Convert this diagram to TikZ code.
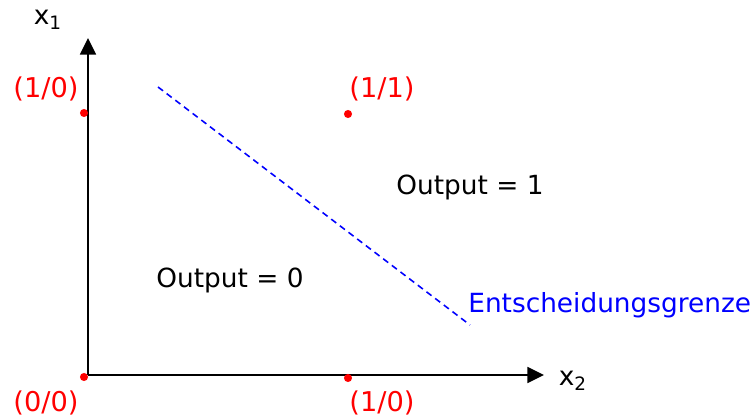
\documentclass[tikz,border=0pt]{standalone}
\usepackage{fontspec}
\setmainfont{DejaVu Sans}
\usetikzlibrary{positioning,arrows.meta}
\definecolor{cpt}{HTML}{FF0000}
\definecolor{cbnd}{HTML}{0000FF}
\tikzset{
  axis/.style={line width=1.3pt, -{Triangle[length=9.5pt,width=9pt]}},
  pt/.style={circle, fill=cpt, inner sep=0pt, minimum size=4.6pt},
  ptlabel/.style={text=cpt, font=\fontsize{15.5}{18}\selectfont, inner sep=0pt},
  txt/.style={font=\fontsize{15}{18}\selectfont, inner sep=0pt},
  bound/.style={draw=cbnd, line width=0.9pt, dash pattern=on 3.6pt off 2.6pt}
}
\begin{document}
\begin{tikzpicture}[x=0.02cm, y=-0.02cm]
\useasboundingbox (0,0) rectangle (755,418);
% axes
\coordinate (o) at (88,375);
\coordinate (xend) at (544,375);
\coordinate (yend) at (88,38);
\draw[axis] (o)--(xend);
\draw[axis] (o)--(yend);
\node[txt] (xlab) at (48,20) {x\textsubscript{1}};
\node[txt] (ylab) at (573,381) {x\textsubscript{2}};
% points
\node[pt] (p00) at (84,377) {};
\node[pt] (p10a) at (84,113) {};
\node[pt] (p11) at (348,114) {};
\node[pt] (p10b) at (348,378) {};
\node[ptlabel] (l00) at (46,403) {(0/0)};
\node[ptlabel] (l10a) at (46,89) {(1/0)};
\node[ptlabel] (l11) at (382,89) {(1/1)};
\node[ptlabel] (l10b) at (382,403) {(1/0)};
% decision boundary
\coordinate (b1) at (158,87);
\coordinate (b2) at (470,325);
\draw[bound] (b1)--(b2);
\node[txt, text=cbnd, anchor=west] (grenze) at (468,305) {Entscheidungsgrenze};
\node[txt] (out1) at (470,187) {Output = 1};
\node[txt] (out0) at (230,280) {Output = 0};
\end{tikzpicture}
\end{document}
